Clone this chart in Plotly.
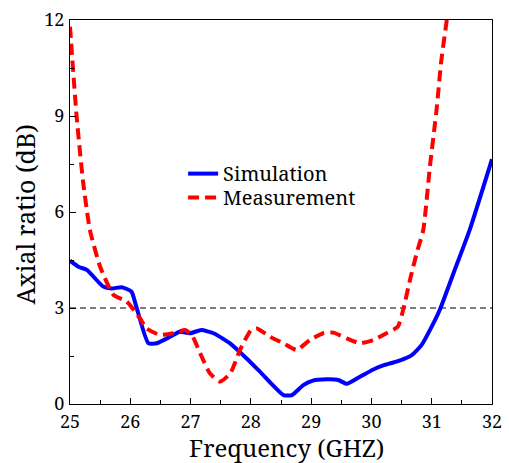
import plotly.graph_objects as go

# Simulated axial ratio (dB) versus frequency (GHz)
sim_freq = [25.0, 25.14, 25.28, 25.55, 25.69, 25.86, 26.02, 26.1, 26.3, 26.44, 26.66, 26.82,
            26.99, 27.18, 27.38, 27.65, 27.93, 28.15, 28.54, 28.68, 28.87, 29.03, 29.26, 29.45,
            29.59, 29.81, 30.03, 30.22, 30.44, 30.67, 30.83, 31.0, 31.14, 31.36, 31.63, 32.0]
sim_ar = [4.48, 4.29, 4.19, 3.67, 3.61, 3.65, 3.51, 3.04, 1.9, 1.9, 2.1, 2.26,
          2.21, 2.31, 2.21, 1.9, 1.42, 1.01, 0.28, 0.28, 0.59, 0.73, 0.77, 0.75,
          0.63, 0.85, 1.08, 1.22, 1.34, 1.53, 1.84, 2.42, 2.97, 4.08, 5.44, 7.65]

# Measured axial ratio (dB) versus frequency (GHz)
meas_freq = [25.0, 25.11, 25.22, 25.33, 25.5, 25.72, 25.94, 26.16, 26.27, 26.49, 26.71, 26.91,
             27.02, 27.16, 27.32, 27.49, 27.66, 27.82, 28.0, 28.1, 28.32, 28.54, 28.76, 28.98,
             29.2, 29.37, 29.59, 29.81, 30.03, 30.25, 30.44, 30.53, 30.64, 30.75, 30.86,
             30.97, 31.08, 31.16, 31.25, 31.32]
meas_ar = [11.79, 8.98, 6.9, 5.44, 4.29, 3.41, 3.2, 2.68, 2.36, 2.16, 2.21, 2.31,
           2.16, 1.58, 0.96, 0.7, 0.96, 1.69, 2.3, 2.36, 2.1, 1.9, 1.69, 2.0,
           2.21, 2.23, 2.05, 1.9, 2.0, 2.21, 2.42, 2.97, 3.88, 4.71, 5.44,
           7.42, 9.19, 10.75, 12.0, 13.0]

# 3 dB axial-ratio reference level
ref_level = 3

x_range = [25, 32]
y_range = [0, 12]
x_ticks = [25, 26, 27, 28, 29, 30, 31, 32]
y_ticks = [0, 3, 6, 9, 12]

FONT = "Noto Serif"

fig = go.Figure()

fig.add_trace(go.Scatter(
    x=x_range, y=[ref_level, ref_level], mode="lines",
    line=dict(color="black", width=1.2, dash="6px,4px"),
    showlegend=False, hoverinfo="skip"))

fig.add_trace(go.Scatter(
    x=sim_freq, y=sim_ar, mode="lines", name="Simulation", legend="legend",
    line=dict(color="#0000ff", width=4, shape="spline", smoothing=0.5)))

fig.add_trace(go.Scatter(
    x=meas_freq, y=meas_ar, mode="lines", name="Measurement", legend="legend2",
    line=dict(color="#ff0000", width=4, dash="11px,6px", shape="spline", smoothing=0.5)))

axis_common = dict(
    showline=True, linecolor="black", linewidth=1.2, mirror=True,
    ticks="inside", ticklen=6, tickwidth=1, tickcolor="black",
    showgrid=False, zeroline=False, automargin=False,
    tickfont=dict(family=FONT, size=18, color="black"),
)

fig.update_xaxes(
    range=x_range, tickvals=x_ticks, ticklabelstandoff=1,
    minor=dict(ticks="inside", ticklen=4, dtick=0.5, tick0=25, tickcolor="black", showgrid=False),
    **axis_common)

fig.update_yaxes(
    range=y_range, tickvals=y_ticks, ticklabelstandoff=1,
    minor=dict(ticks="inside", ticklen=4, dtick=1.5, tick0=0, tickcolor="black", showgrid=False),
    **axis_common)

# Axis titles placed as paper-anchored annotations
fig.add_annotation(text="Frequency (GHZ)", xref="paper", yref="paper",
                   x=0.513, y=-0.112, xanchor="center", yanchor="middle",
                   showarrow=False, font=dict(family=FONT, size=24, color="black"))
fig.add_annotation(text="Axial ratio (dB)", xref="paper", yref="paper",
                   x=-0.107, y=0.493, xanchor="center", yanchor="middle",
                   textangle=-90, showarrow=False, font=dict(family=FONT, size=25, color="black"))

legend_style = dict(
    xanchor="left", yanchor="middle",
    bgcolor="rgba(0,0,0,0)", borderwidth=0,
    font=dict(family=FONT, size=20, color="black"),
)

fig.update_layout(
    width=509, height=463,
    margin=dict(l=70, r=17, t=20, b=59),
    plot_bgcolor="white", paper_bgcolor="white",
    font=dict(family=FONT, color="black"),
    legend=dict(x=0.268, y=0.6, **legend_style),
    legend2=dict(x=0.268, y=0.538, **legend_style),
)

fig.write_html("out.html")
